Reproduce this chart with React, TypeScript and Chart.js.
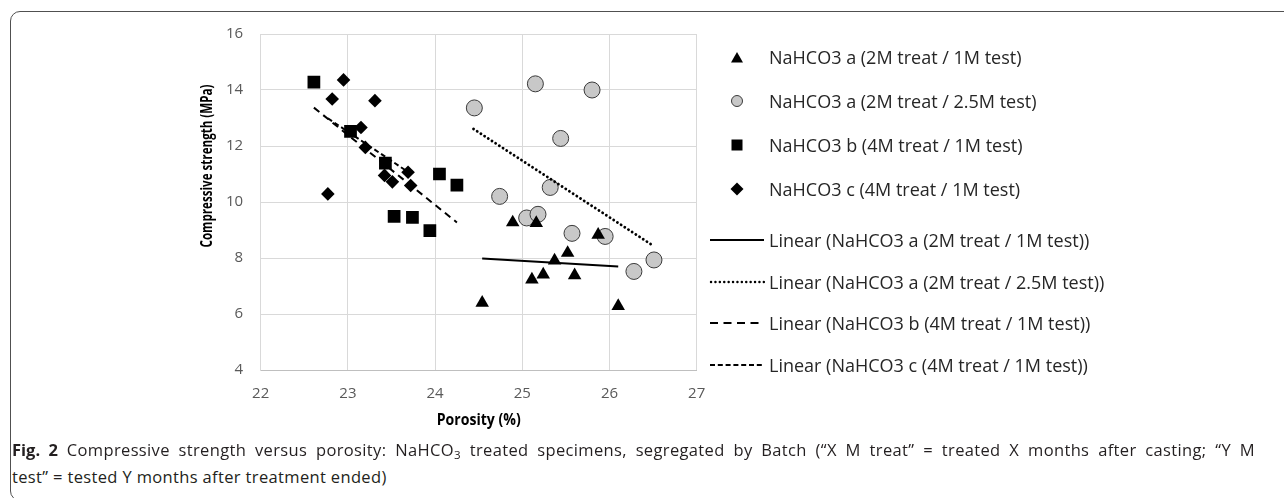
import React, { useEffect, useRef } from 'react';
import { Chart, registerables } from 'chart.js';

Chart.register(...registerables);

// ---------------- data ----------------
const xAxisTicks = [22, 23, 24, 25, 26, 27];
const yAxisTicks = [4, 6, 8, 10, 12, 14, 16];
const xTitle = 'Porosity (%)';
const yTitle = 'Compressive strength (MPa)';

const seriesNames = [
  'NaHCO3 a (2M treat / 1M test)',
  'NaHCO3 a (2M treat / 2.5M test)',
  'NaHCO3 b (4M treat / 1M test)',
  'NaHCO3 c (4M treat / 1M test)',
];
const trendNames = seriesNames.map((n) => `Linear (${n})`);

// NaHCO3 a (2M treat / 1M test) - triangles
const aShortPorosity = [24.89, 25.16, 25.87, 25.52, 25.37, 25.24, 25.11, 25.6, 24.54, 26.1];
const aShortStrength = [9.27, 9.25, 8.83, 8.18, 7.91, 7.41, 7.23, 7.38, 6.4, 6.28];

// NaHCO3 a (2M treat / 2.5M test) - circles
const aLongPorosity = [24.45, 25.15, 25.8, 25.44, 24.74, 25.32, 25.05, 25.18, 25.57, 25.95, 26.51, 26.28];
const aLongStrength = [13.36, 14.22, 14.0, 12.27, 10.2, 10.52, 9.43, 9.56, 8.88, 8.77, 7.93, 7.52];

// NaHCO3 b (4M treat / 1M test) - squares
const bPorosity = [22.61, 23.03, 23.43, 24.05, 24.25, 23.53, 23.74, 23.94];
const bStrength = [14.28, 12.52, 11.39, 11.0, 10.6, 9.49, 9.45, 8.98];

// NaHCO3 c (4M treat / 1M test) - diamonds
const cPorosity = [22.95, 22.82, 23.31, 23.15, 23.2, 23.42, 23.51, 23.69, 23.72, 22.77];
const cStrength = [14.36, 13.68, 13.62, 12.66, 11.95, 10.95, 10.72, 11.06, 10.59, 10.29];

// Linear trend lines (end points)
const aShortTrendPorosity = [24.54, 26.1];
const aShortTrendStrength = [7.98, 7.7];
const aLongTrendPorosity = [24.44, 26.51];
const aLongTrendStrength = [12.61, 8.42];
const bTrendPorosity = [22.61, 24.25];
const bTrendStrength = [13.37, 9.27];
const cTrendPorosity = [22.77, 23.72];
const cTrendStrength = [12.99, 11.01];

// ---------------- helpers ----------------
const pts = (xs: number[], ys: number[]) => xs.map((x, i) => ({ x, y: ys[i] }));

const FONT = '"Open Sans", "Noto Sans", sans-serif';

const axisTitlesPlugin = {
  id: 'axisTitles',
  afterDraw(chart: any) {
    const { ctx, chartArea } = chart;
    ctx.save();
    ctx.fillStyle = '#000';
    ctx.font = `bold 16px ${FONT}`;
    ctx.textAlign = 'center';
    ctx.textBaseline = 'middle';
    ctx.fillText(xTitle, (chartArea.left + chartArea.right) / 2, 420, 84);
    ctx.translate(207, 166);
    ctx.rotate(-Math.PI / 2);
    ctx.fillText(yTitle, 0, 0, 163);
    ctx.restore();
  },
};

const legendRowY = [57, 101, 145, 189, 240, 282, 323, 365];

function LegendIcon({ kind }: { kind: string }) {
  const common = { width: 56, height: 16, style: { position: 'absolute' as const, left: 0, top: -8 } };
  let shape: any = null;
  if (kind === 'tri') shape = <polygon points="22,13.5 34,13.5 28,3" fill="#000" />;
  else if (kind === 'circ') shape = <circle cx="28" cy="8" r="5.5" fill="#c8c8c8" stroke="#3a3a3a" strokeWidth="1" />;
  else if (kind === 'sq') shape = <rect x="22.5" y="2.5" width="11" height="11" fill="#000" />;
  else if (kind === 'dia') shape = <polygon points="28,1.5 34.5,8 28,14.5 21.5,8" fill="#000" />;
  else if (kind === 'solid') shape = <line x1="1" x2="55" y1="8" y2="8" stroke="#000" strokeWidth="2" />;
  else if (kind === 'dot') shape = <line x1="2" x2="55" y1="8" y2="8" stroke="#000" strokeWidth="2.4" strokeDasharray="0.1 4.3" strokeLinecap="round" />;
  else if (kind === 'dashL') shape = <line x1="1" x2="55" y1="8" y2="8" stroke="#000" strokeWidth="2" strokeDasharray="8 5.5" />;
  else if (kind === 'dashS') shape = <line x1="1" x2="55" y1="8" y2="8" stroke="#000" strokeWidth="2" strokeDasharray="5 2.8" />;
  return <svg {...common}>{shape}</svg>;
}

export default function App() {
  const canvasRef = useRef<HTMLCanvasElement | null>(null);

  useEffect(() => {
    document.body.style.margin = '0';
    const canvas = canvasRef.current;
    if (!canvas) return;

    const tickFont = { family: FONT, size: 15 };
    const lineBase = { showLine: true, pointRadius: 0, borderColor: '#000', backgroundColor: '#000', fill: false };

    const chart = new Chart(canvas, {
      type: 'scatter',
      data: {
        datasets: [
          { ...lineBase, label: trendNames[0], data: pts(aShortTrendPorosity, aShortTrendStrength), borderWidth: 2 },
          { ...lineBase, label: trendNames[1], data: pts(aLongTrendPorosity, aLongTrendStrength), borderWidth: 2.8, borderDash: [0.1, 4.3], borderCapStyle: 'round' },
          { ...lineBase, label: trendNames[2], data: pts(bTrendPorosity, bTrendStrength), borderWidth: 2, borderDash: [7, 5] },
          { ...lineBase, label: trendNames[3], data: pts(cTrendPorosity, cTrendStrength), borderWidth: 2, borderDash: [5, 3] },
          {
            label: seriesNames[0], data: pts(aShortPorosity, aShortStrength),
            pointStyle: 'triangle', pointRadius: 7.8, backgroundColor: '#000', borderColor: '#000', borderWidth: 0,
          },
          {
            label: seriesNames[1], data: pts(aLongPorosity, aLongStrength),
            pointStyle: 'circle', pointRadius: 8, backgroundColor: '#c8c8c8', borderColor: '#3a3a3a', borderWidth: 1,
          },
          {
            label: seriesNames[2], data: pts(bPorosity, bStrength),
            pointStyle: 'rect', pointRadius: 9, backgroundColor: '#000', borderColor: '#000', borderWidth: 0,
          },
          {
            label: seriesNames[3], data: pts(cPorosity, cStrength),
            pointStyle: 'rectRot', pointRadius: 6.8, backgroundColor: '#000', borderColor: '#000', borderWidth: 0,
          },
        ],
      } as any,
      options: {
        responsive: false,
        animation: false,
        events: [],
        layout: { padding: { left: 200.7, right: 587.3, top: 34, bottom: 30 } },
        plugins: {
          legend: { display: false },
          tooltip: { enabled: false },
          title: { display: false },
        },
        scales: {
          x: {
            type: 'linear',
            min: xAxisTicks[0],
            max: xAxisTicks[xAxisTicks.length - 1],
            afterBuildTicks: (s: any) => { s.ticks = xAxisTicks.map((v) => ({ value: v })); },
            afterFit: (s: any) => { s.height = 40; },
            ticks: { color: '#595959', font: tickFont, padding: 15, maxRotation: 0 },
            grid: { color: '#d9d9d9', lineWidth: 1, drawTicks: false },
            border: { color: '#bfbfbf', width: 1 },
          },
          y: {
            type: 'linear',
            min: yAxisTicks[0],
            max: yAxisTicks[yAxisTicks.length - 1],
            afterBuildTicks: (s: any) => { s.ticks = yAxisTicks.map((v) => ({ value: v })); },
            afterFit: (s: any) => { s.width = 60; },
            ticks: { color: '#595959', font: tickFont, padding: 17.5 },
            grid: { color: '#d9d9d9', lineWidth: 1, drawTicks: false },
            border: { color: '#d9d9d9', width: 1 },
          },
        },
      } as any,
      plugins: [axisTitlesPlugin],
    });
    return () => chart.destroy();
  }, []);

  const legendItems = [
    { kind: 'tri', text: seriesNames[0] },
    { kind: 'circ', text: seriesNames[1] },
    { kind: 'sq', text: seriesNames[2] },
    { kind: 'dia', text: seriesNames[3] },
    { kind: 'solid', text: trendNames[0] },
    { kind: 'dot', text: trendNames[1] },
    { kind: 'dashL', text: trendNames[2] },
    { kind: 'dashS', text: trendNames[3] },
  ];

  const captionFont = `16.5px ${FONT}`;
  const captionSpacing = '0.35px';

  return (
    <div style={{ position: 'fixed', left: 0, top: 0, width: 1284, height: 498, overflow: 'hidden', background: '#fff' }}>
      <div
        style={{
          position: 'absolute', left: 10, top: 11, width: 1400, height: 490,
          border: '1.5px solid #505050', borderRadius: 10, boxSizing: 'border-box',
        }}
      />
      <canvas ref={canvasRef} width={1284} height={440} style={{ position: 'absolute', left: 0, top: 0, width: 1284, height: 440 }} />
      {legendItems.map((it, i) => (
        <div key={i} style={{ position: 'absolute', left: 709, top: legendRowY[i], height: 0 }}>
          <LegendIcon kind={it.kind} />
          <span
            style={{
              position: 'absolute', left: 60, top: -13, whiteSpace: 'nowrap',
              font: `18px ${FONT}`, lineHeight: '26px', color: '#262626',
            }}
          >
            {it.text}
          </span>
        </div>
      ))}
      <div
        style={{
          position: 'absolute', left: 12, top: 436, width: 1243,
          font: captionFont, letterSpacing: captionSpacing, lineHeight: '27px', color: '#231f20',
          textAlign: 'justify', textAlignLast: 'justify' as any, whiteSpace: 'nowrap',
        }}
      >
        <span style={{ fontWeight: 700, letterSpacing: 0 }}>Fig. 2</span>{'  '}
        <span style={{ whiteSpace: 'normal' }}>
          Compressive strength versus porosity: NaHCO<sub style={{ fontSize: '0.7em', verticalAlign: '-0.25em', lineHeight: 0 }}>3</sub> treated
          specimens, segregated by Batch (“X M treat” = treated X months after casting; “Y M
        </span>
      </div>
      <div
        style={{
          position: 'absolute', left: 12, top: 463, whiteSpace: 'nowrap',
          font: captionFont, letterSpacing: captionSpacing, lineHeight: '27px', color: '#231f20',
        }}
      >
        test” = tested Y months after treatment ended)
      </div>
    </div>
  );
}
